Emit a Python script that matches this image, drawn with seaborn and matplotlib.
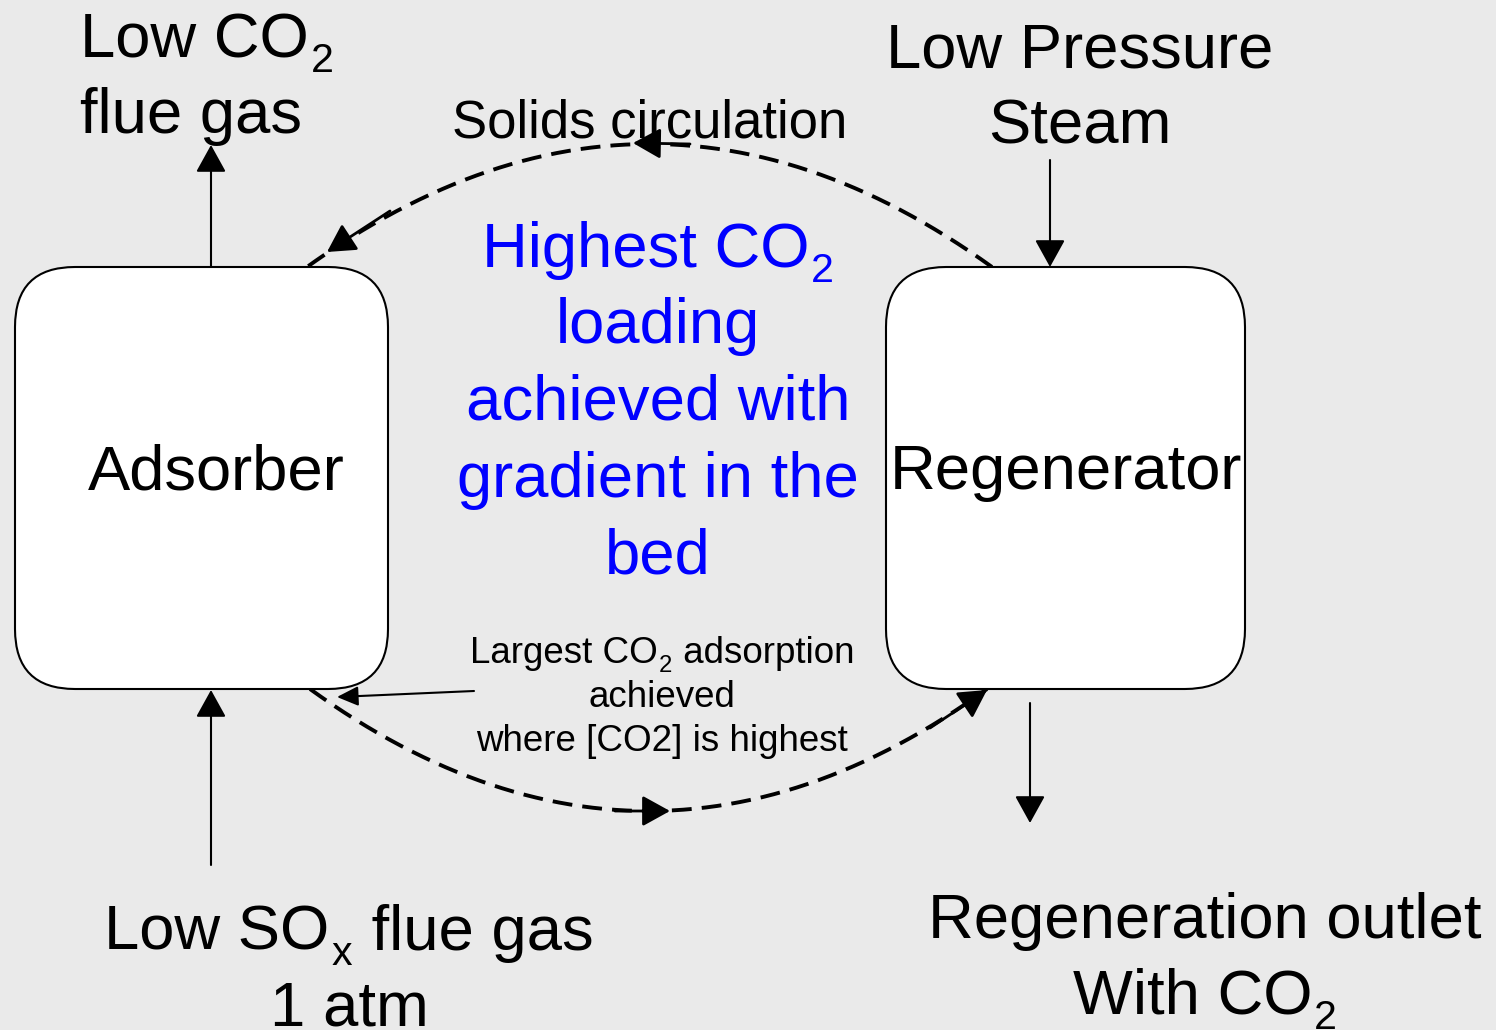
import re
import numpy as np
import pandas as pd
import seaborn as sns
import matplotlib.pyplot as plt
from matplotlib.patches import FancyBboxPatch

# Plain theme, Arial-like font, black text
sns.set_theme(style="white")
plt.rcParams["font.family"] = ["Liberation Sans", "DejaVu Sans"]
plt.rcParams["text.color"] = "black"

BG = "#EAEAEA"

# Text content of the diagram ($_..$ marks a subscript)
units = ["Adsorber", "Regenerator"]
top_left = ["Low CO$_2$", "flue gas"]
top_right = ["Low Pressure", "Steam"]
bottom_left = ["Low SO$_x$ flue gas", "1 atm"]
bottom_right = ["Regeneration outlet", "With CO$_2$"]
loop_label = "Solids circulation"
highlight = ["Highest CO$_2$", "loading", "achieved with", "gradient in the", "bed"]
note = ["Largest CO$_2$ adsorption", "achieved", "where [CO2] is highest"]

# Canvas in pixel units (y down)
fig = plt.figure(figsize=(14.96, 10.30), dpi=100, facecolor=BG)
ax = fig.add_axes([0, 0, 1, 1])
ax.set_facecolor(BG)
ax.set_xlim(0, 1496)
ax.set_ylim(1030, 0)
renderer = fig.canvas.get_renderer()


def rich_line(s, x, y, size, ha="center", color="black"):
    # draw one line, with subscripts set lower than mathtext would
    px = size * 100 / 72
    items = []
    for i, chunk in enumerate(re.split(r"\$_(\w+)\$", s)):
        if not chunk:
            continue
        sub = i % 2 == 1
        t = ax.text(0, y + (0.24 * px if sub else 0), chunk,
                    fontsize=size * 0.65 if sub else size,
                    ha="left", va="baseline", color=color)
        items.append((t, t.get_window_extent(renderer).width))
    pad = 0.03 * px
    total = sum(w for _, w in items) + pad * (len(items) - 1)
    cur = x - total / 2 if ha == "center" else x
    for t, w in items:
        t.set_x(cur)
        cur += w + pad


def put_lines(lines, x, y0, step, size, ha="center", color="black"):
    for i, s in enumerate(lines):
        rich_line(s, x, y0 + i * step, size, ha=ha, color=color)


def bezier(p0, c, p1, n=300):
    t = np.linspace(0, 1, n)[:, None]
    p0, c, p1 = np.array(p0), np.array(c), np.array(p1)
    pts = (1 - t) ** 2 * p0 + 2 * (1 - t) * t * c + t ** 2 * p1
    return pd.DataFrame(pts, columns=["x", "y"])


def arrow(tail, tip, hl=17, hw=9.4, lw=1.5):
    ax.annotate("", xy=tip, xytext=tail,
                arrowprops=dict(arrowstyle=f"-|>,head_length={hl},head_width={hw}",
                                mutation_scale=1, lw=lw, color="black",
                                shrinkA=0, shrinkB=0))


# Unit boxes
for (x, y, w, h), name, cx in zip([(15, 267, 373, 422), (886, 267, 359, 422)],
                                  units, [216, 1066]):
    ax.add_patch(FancyBboxPatch((x, y), w, h, boxstyle="round,pad=0,rounding_size=60",
                                facecolor="white", edgecolor="black", lw=1.5, zorder=2))
    ax.text(cx, 489, name, fontsize=45.6, ha="center", va="baseline", zorder=3)

# Solids circulation loop (dashed)
dash = (0, (5.1, 2.6))
top_arc = bezier((992, 267), (650, 21), (307, 267))
bot_arc = bezier((310, 689), (648, 933), (987, 689))
for arc in (top_arc, bot_arc):
    sns.lineplot(data=arc, x="x", y="y", sort=False, estimator=None, ax=ax,
                 color="black", lw=2.8, linestyle=dash, zorder=1)

arrow((690, 144), (633, 143), lw=2)
arrow((615, 811), (670, 811), lw=2)
arrow((390, 211), (327, 252), lw=2)
arrow((930, 728), (987, 690), lw=2)

# Gas streams
arrow((211, 267), (211, 145))
arrow((1050, 160), (1050, 267))
arrow((211, 865), (211, 690))
arrow((1030, 703), (1030, 823))
arrow((474, 691), (337, 697), hl=13, hw=6)

# Labels
put_lines(top_left, 80, 57, 76, 45.6, ha="left")
put_lines(top_right, 1080, 67, 76, 45.6)
put_lines(bottom_left, 349, 950, 76, 45.6)
put_lines(bottom_right, 1205, 938, 76, 45.6)
ax.text(650, 138, loop_label, fontsize=38, ha="center", va="baseline")
put_lines(highlight, 658, 267, 76.5, 45.6, color="#0000FF")
put_lines(note, 662, 663, 44, 26.5)

ax.set_xlim(0, 1496)
ax.set_ylim(1030, 0)
ax.axis("off")

fig.savefig("out.png", dpi=100, facecolor=BG)
